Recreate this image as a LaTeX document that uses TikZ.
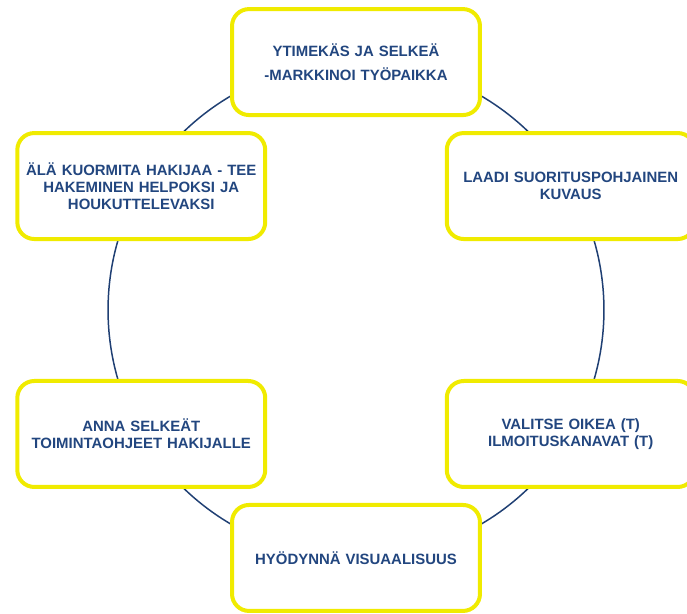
\documentclass[tikz,border=0pt]{standalone}
\usepackage{fontspec}
\setmainfont{Liberation Sans}
\usetikzlibrary{calc}
\definecolor{tipblue}{HTML}{22467F}
\definecolor{ringblue}{HTML}{1F3F73}
\definecolor{boxyellow}{HTML}{F0EB00}
\tikzset{
  tipbox/.style={draw=boxyellow,line width=0.08cm,rounded corners=0.34cm,fill=white,
    minimum width=4.96cm,minimum height=2.12cm,text width=4.7cm,align=center,
    text=tipblue,font=\fontsize{8.5}{9.8}\selectfont\bfseries},
  ring/.style={draw=ringblue,line width=0.85pt}
}

\begin{document}
\begin{tikzpicture}[x=0.02cm,y=-0.02cm]
    \clip (0,0) rectangle (687,613);
    \coordinate (mid) at (356,310);
    \draw[ring] (mid) circle (4.96cm);
    \node[tipbox] (ydin) at ($(mid)+(90:4.96cm)$) {YTIMEKÄS JA SELKEÄ\\[4pt]-MARKKINOI TYÖPAIKKA};
    \node[tipbox] (kuvaus) at ($(mid)+(30:4.96cm)$) {LAADI SUORITUSPOHJAINEN\\KUVAUS};
    \node[tipbox] (kanava) at ($(mid)+(-30:4.96cm)$) {VALITSE OIKEA (T)\\ILMOITUSKANAVAT (T)};
    \node[tipbox] (visu) at ($(mid)+(-90:4.96cm)$) {HYÖDYNNÄ VISUAALISUUS};
    \node[tipbox] (ohje) at ($(mid)+(-150:4.96cm)$) {ANNA SELKEÄT\\TOIMINTAOHJEET HAKIJALLE};
    \node[tipbox] (helppo) at ($(mid)+(150:4.96cm)$) {ÄLÄ KUORMITA HAKIJAA - TEE\\HAKEMINEN HELPOKSI JA\\HOUKUTTELEVAKSI};
\end{tikzpicture}
\end{document}
